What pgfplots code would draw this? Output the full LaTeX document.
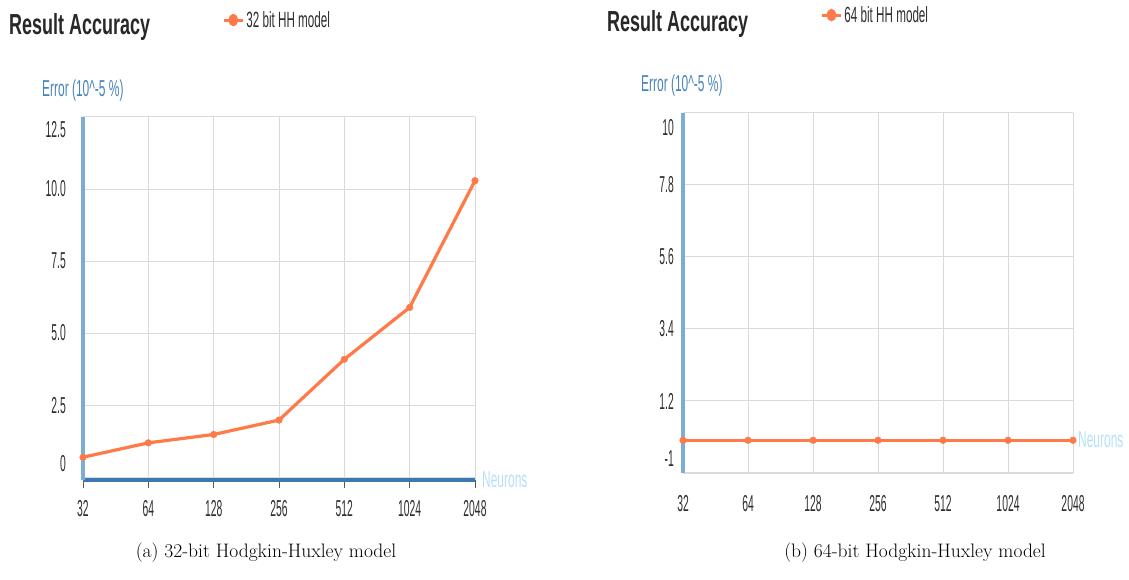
\documentclass[border=0pt]{standalone}
\usepackage{pgfplots}
\pgfplotsset{compat=1.18}
\usepackage{fontspec}
\newfontfamily\cf[FakeStretch=0.52]{Liberation Sans}
\newfontfamily\tkf[FakeStretch=0.45]{Liberation Sans}
\newfontfamily\lf[FakeStretch=0.53]{Liberation Sans}
\newfontfamily\tf[FakeStretch=0.62]{Liberation Sans}
\definecolor{lineor}{RGB}{255,122,72}
\definecolor{gridgray}{RGB}{218,218,218}
\definecolor{ylinecol}{RGB}{125,172,212}
\definecolor{xlinecol}{RGB}{62,120,180}
\definecolor{labblue}{RGB}{72,132,186}
\definecolor{neublue}{RGB}{180,224,248}
\definecolor{ticktext}{RGB}{45,45,45}
\pgfplotsset{
  hhstyle/.style={
    scale only axis, anchor=south west,
    xmin=0, xmax=6,
    xtick={0,1,2,3,4,5,6},
    xticklabels={32,64,128,256,512,1024,2048},
    grid=major, grid style={draw=gridgray, line width=1bp},
    axis lines*=left,
    y axis line style={draw=ylinecol, line width=4bp},
    ytick style={draw=none},
    ticklabel style={font=\tkf\fontsize{23bp}{25bp}\selectfont, text=ticktext},
    yticklabel style={anchor=east, inner sep=0pt, xshift=-9bp},
    xticklabel style={anchor=north, inner sep=0pt},
    legend style={draw=none, fill=none, font=\lf\fontsize{22bp}{24bp}\selectfont, text=ticktext, inner sep=0pt, anchor=west,
      legend image code/.code={\draw[lineor, line width=3bp] (0bp,0bp) -- (19bp,0bp);
        \fill[lineor] (9.5bp,0bp) ellipse (3.2bp and 4.5bp);}},
  },
  hhplot/.style={lineor, line width=3.2bp, mark=*, mark size=3.3bp, mark options={fill=lineor, draw=lineor, line width=0.5bp}},
}
\begin{document}
\begin{tikzpicture}
\path[use as bounding box] (0,0) rectangle (1129bp,580bp);
% ---------- left chart ----------
\begin{axis}[hhstyle,
  at={(83bp,100bp)}, width=392bp, height=363bp,
  ymin=-0.1, ymax=12.5,
  ytick={0,2.5,5,7.5,10,12.5},
  yticklabels={{\smash{\raisebox{6bp}{0}}},2.5,5.0,7.5,10.0,{\smash{\raisebox{-21bp}{12.5}}}},
  x axis line style={draw=xlinecol, line width=4bp},
  xtick style={draw=black!65, line width=1bp}, tick align=outside, major tick length=8bp,
  xticklabel shift=12bp,
  legend style={at={(0.355,1.267)}},
]
\addplot[hhplot] coordinates {(0,0.69) (1,1.19) (2,1.48) (3,1.98) (4,4.09) (5,5.89) (6,10.29)};
\addlegendentry{32 bit HH model}
\end{axis}
% ---------- right chart ----------
\begin{axis}[hhstyle,
  at={(683bp,107bp)}, width=390bp, height=360bp,
  ymin=-1, ymax=10,
  ytick={-1,1.2,3.4,5.6,7.8,10},
  yticklabels={{\smash{\raisebox{7bp}{-1}}},1.2,3.4,5.6,7.8,{\smash{\raisebox{-23bp}{10}}}},
  x axis line style={draw=gridgray, line width=1.5bp},
  xtick style={draw=none},
  xticklabel shift=22bp,
  legend style={at={(0.352,1.272)}},
]
\addplot[hhplot] coordinates {(0,0) (1,0) (2,0) (3,0) (4,0) (5,0) (6,0)};
\addlegendentry{64 bit HH model}
\end{axis}
% ---------- titles and labels ----------
\node[anchor=base west, inner sep=0pt, text={rgb,255:red,40;green,40;blue,40}] at (9bp,545bp) {\tf\bfseries\fontsize{29bp}{32bp}\selectfont Result Accuracy};
\node[anchor=base west, inner sep=0pt, text={rgb,255:red,40;green,40;blue,40}] at (607bp,548bp) {\tf\bfseries\fontsize{29bp}{32bp}\selectfont Result Accuracy};
\node[anchor=base west, inner sep=0pt, text=labblue] at (42bp,483bp) {\cf\fontsize{23bp}{25bp}\selectfont Error (10\textasciicircum-5 \%)};
\node[anchor=base west, inner sep=0pt, text=labblue] at (641bp,488bp) {\cf\fontsize{23bp}{25bp}\selectfont Error (10\textasciicircum-5 \%)};
\node[anchor=west, inner sep=0pt, text=neublue] at (482bp,100bp) {\cf\fontsize{23bp}{25bp}\selectfont Neurons};
\node[anchor=west, inner sep=0pt, text=neublue] at (1078bp,140bp) {\cf\fontsize{23bp}{25bp}\selectfont Neurons};
\node[inner sep=0pt] at (266bp,27bp) {\fontsize{19.5bp}{22bp}\selectfont (a) 32-bit Hodgkin-Huxley model};
\node[inner sep=0pt] at (915bp,27bp) {\fontsize{19.5bp}{22bp}\selectfont (b) 64-bit Hodgkin-Huxley model};
\end{tikzpicture}
\end{document}
